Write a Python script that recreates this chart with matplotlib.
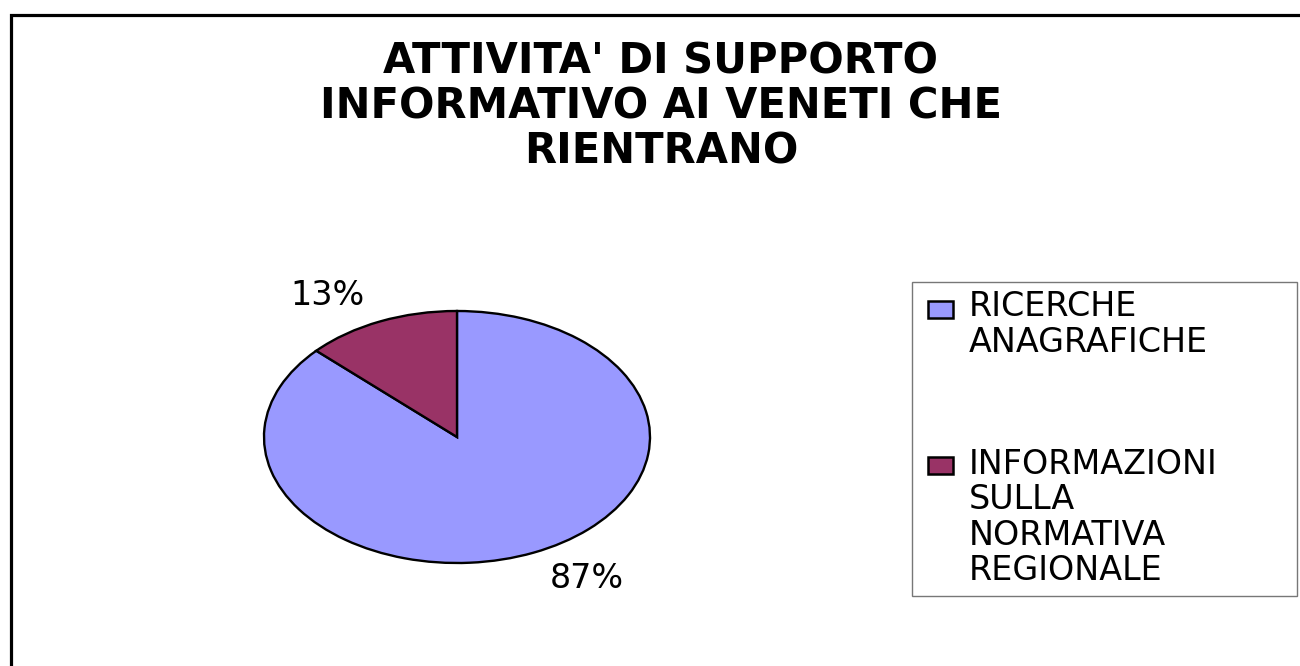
import matplotlib
matplotlib.use("Agg")
import matplotlib.pyplot as plt
from matplotlib.patches import Rectangle, Patch
from matplotlib.legend_handler import HandlerPatch
import numpy as np

plt.rcParams['font.family'] = ['DejaVu Sans']

# Data
title = "ATTIVITA' DI SUPPORTO\nINFORMATIVO AI VENETI CHE\nRIENTRANO"
categories = ["RICERCHE\nANAGRAFICHE", "INFORMAZIONI\nSULLA\nNORMATIVA\nREGIONALE"]
shares = [87, 13]
colors = ["#9999FF", "#993366"]

W, H = 1300, 666
fig = plt.figure(figsize=(W / 100, H / 100), dpi=100)
fig.patch.set_facecolor("white")

# Outer chart frame (runs past the right and bottom edges)
frame = Rectangle((10.5 / W, -0.05), 1.1, 1 - 15 / H + 0.05, transform=fig.transFigure,
                  fill=False, edgecolor="black", linewidth=2.3, clip_on=False)
fig.patches.append(frame)

# Title
fig.text(661 / W, 1 - 40 / H, title, ha="center", va="top", fontsize=30,
         fontweight="bold", linespacing=1.1, multialignment="center")

# Pie drawn in a stretched axes so it appears as an ellipse
cx, cy, rx, ry = 457, 437, 193, 126
ax = fig.add_axes([(cx - rx) / W, (H - cy - ry) / H, 2 * rx / W, 2 * ry / H])
wedges, _ = ax.pie(shares, colors=colors, startangle=90, counterclock=False,
                   wedgeprops=dict(edgecolor="black", linewidth=1.7))
ax.set_aspect("auto")
ax.set_xlim(-1, 1)
ax.set_ylim(-1, 1)
ax.axis("off")
for w in wedges:
    w.set_clip_on(False)

# Percentage labels outside the slices
for w, v in zip(wedges, shares):
    ang = np.deg2rad((w.theta1 + w.theta2) / 2 + 7.5)
    ax.text(1.31 * np.cos(ang), 1.31 * np.sin(ang), f"{v}%", ha="center",
            va="center", fontsize=24, clip_on=False)

LEGEND_LINE_PX = 36.5
SWATCH_W_PT = 18.0


class FirstLineHandler(HandlerPatch):
    """Places the legend swatch next to the first line of a multi-line label."""

    def __init__(self, nlines, **kw):
        super().__init__(**kw)
        self.nlines = nlines

    def create_artists(self, legend, orig_handle, xdescent, ydescent, width,
                       height, fontsize, trans):
        shift = (self.nlines - 1) / 2 * LEGEND_LINE_PX * 72 / 100 - 1.5
        p = Rectangle((-xdescent + width - SWATCH_W_PT, -ydescent + shift),
                      SWATCH_W_PT, height)
        self.update_prop(p, orig_handle, legend)
        p.set_transform(trans)
        return [p]


handles = [Patch(facecolor=c, edgecolor="black", linewidth=1.8) for c in colors]
hmap = {h: FirstLineHandler(lab.count("\n") + 1) for h, lab in zip(handles, categories)}
x0, x1, y0, y1 = 912, 1297, 282, 593
leg = fig.legend(handles, categories, loc="upper left",
                 bbox_to_anchor=(x0 / W, 1 - y1 / H, (x1 - x0) / W, (y1 - y0) / H),
                 mode="expand", borderaxespad=0,
                 fontsize=24, frameon=True, fancybox=False, shadow=False,
                 handlelength=0.99, handleheight=0.4, handletextpad=0.45,
                 labelspacing=2.66, borderpad=0.25, handler_map=hmap)
for t in leg.get_texts():
    t.set_linespacing(1.1)
leg.get_frame().set_edgecolor("#555555")
leg.get_frame().set_linewidth(1.0)

fig.savefig("out.png", dpi=100, facecolor="white")
